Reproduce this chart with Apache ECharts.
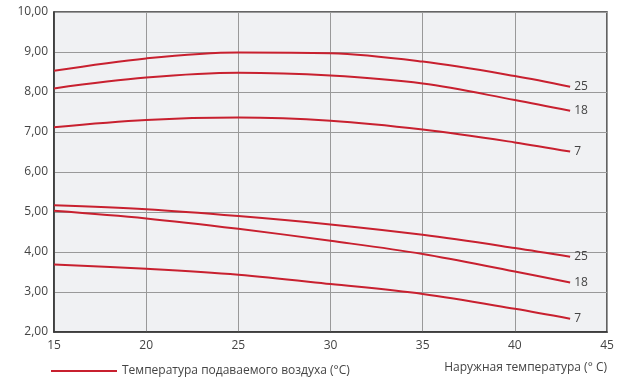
<!DOCTYPE html>
<html>
<head>
<meta charset="utf-8">
<script src="https://cdn.jsdelivr.net/npm/echarts@6/dist/echarts.min.js"></script>
<style>html,body{margin:0;padding:0;background:#fff}#c{width:629px;height:381px}</style>
</head>
<body>
<div id="c"></div>
<script>
const outdoorTemp = [15, 20, 25, 30, 35, 40, 43];
const upper25 = [8.53, 8.84, 8.99, 8.97, 8.76, 8.40, 8.13];
const upper18 = [8.09, 8.36, 8.48, 8.41, 8.21, 7.80, 7.53];
const upper7  = [7.12, 7.30, 7.36, 7.28, 7.06, 6.74, 6.51];
const lower25 = [5.17, 5.07, 4.90, 4.69, 4.43, 4.10, 3.88];
const lower18 = [5.03, 4.84, 4.58, 4.28, 3.95, 3.51, 3.24];
const lower7  = [3.69, 3.58, 3.43, 3.20, 2.95, 2.58, 2.33];
const curveLabels = ['25', '18', '7', '25', '18', '7'];
const curves = [upper25, upper18, upper7, lower25, lower18, lower7];
const yTicks = [2, 3, 4, 5, 6, 7, 8, 9, 10];
const legendName = 'Температура подаваемого воздуха (°C)';
const xAxisName = 'Наружная температура (° C)';

const font = '"Open Sans", "Noto Sans", sans-serif';
const red = '#c8202f';
const chart = echarts.init(document.getElementById('c'), null, {renderer: 'canvas'});
chart.setOption({
  animation: false,
  textStyle: {fontFamily: font},
  grid: {left: 54, right: 22, top: 12, bottom: 49, show: true,
         backgroundColor: '#f0f1f3', borderColor: '#333', borderWidth: 1.5},
  legend: {
    data: [legendName], left: 46, top: 360, itemWidth: 66, itemHeight: 2, itemGap: 6,
    icon: 'rect',
    textStyle: {fontFamily: font, fontSize: 12, color: '#444'}
  },
  xAxis: {
    type: 'value', min: 15, max: 45, interval: 5,
    name: xAxisName, nameLocation: 'end', nameGap: 0,
    nameTextStyle: {fontFamily: font, fontSize: 12, color: '#444', align: 'right', verticalAlign: 'top', padding: [30, 0, 0, 0]},
    axisLine: {show: true, lineStyle: {color: '#333', width: 1.5}},
    axisTick: {show: false},
    axisLabel: {color: '#444', fontSize: 12, fontFamily: font, margin: 8},
    splitLine: {show: true, lineStyle: {color: '#999', width: 1}}
  },
  yAxis: {
    type: 'value', min: yTicks[0], max: yTicks[yTicks.length - 1], interval: 1,
    axisLine: {show: true, lineStyle: {color: '#333', width: 1.5}},
    axisTick: {show: false},
    axisLabel: {color: '#444', fontSize: 12, fontFamily: font, margin: 6,
      formatter: v => v.toFixed(2).replace('.', ',')},
    splitLine: {show: true, lineStyle: {color: '#999', width: 1}}
  },
  series: curves.map((vals, i) => ({
    name: legendName,
    type: 'line',
    smooth: 0.35,
    showSymbol: false,
    data: outdoorTemp.map((x, j) => [x, vals[j]]),
    lineStyle: {color: red, width: 2},
    itemStyle: {color: red},
    endLabel: {show: true, formatter: () => curveLabels[i], color: '#444', fontSize: 12, fontFamily: font, distance: 4}
  }))
});
</script>
</body>
</html>
